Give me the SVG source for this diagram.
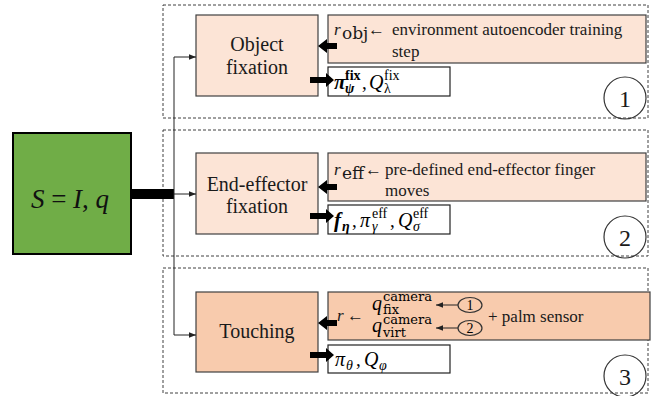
<svg xmlns="http://www.w3.org/2000/svg" width="662" height="396" viewBox="0 0 662 396">
<style>
.sec{fill:none;stroke:#404040;stroke-width:1;stroke-dasharray:3,2}
.node{fill:#FCE4D6;stroke:#404040;stroke-width:1.2}
.node3{fill:#F8CBAD;stroke:#404040;stroke-width:1.2}
.out{fill:#ffffff;stroke:#222;stroke-width:1.2}
.lbl{font-size:20px;fill:#1a1a1a}
.t{font-size:17px;fill:#1a1a1a}
.num{font-size:24px;fill:#1a1a1a;text-anchor:middle}
.circ{fill:none;stroke:#333;stroke-width:1.2}
.thin{stroke:#222;stroke-width:1;fill:none}
.fat{fill:#000}
</style>
<defs>
<marker id="ah" viewBox="0 0 10 10" refX="10" refY="5" markerWidth="7" markerHeight="7" orient="auto" markerUnits="userSpaceOnUse">
<path d="M0,1 L10,5 L0,9 z" fill="#222"/>
</marker>
</defs>
<g font-family="'Liberation Serif', 'Times New Roman', serif">

<g id="section1">
<rect class="sec" x="163" y="5" width="485" height="113"/>
</g>
<g id="section2">
<rect class="sec" x="163" y="130" width="485" height="126"/>
</g>
<g id="section3">
<rect class="sec" x="163" y="268" width="485" height="125"/>
</g>

<g id="state">
<rect x="13" y="133" width="118" height="121" fill="#70AD47" stroke="#000" stroke-width="2"/>
<text x="70" y="208" text-anchor="middle" font-size="27" fill="#111"><tspan font-style="italic">S</tspan> = <tspan font-style="italic">I</tspan>, <tspan font-style="italic">q</tspan></text>
</g>

<g id="object-fixation">
<rect class="node" x="196" y="15" width="122" height="81"/>
<text class="lbl" x="257" y="51" text-anchor="middle">Object</text>
<text class="lbl" x="257" y="74" text-anchor="middle">fixation</text>
</g>
<g id="reward1">
<rect class="node" x="328" y="15" width="318" height="48"/>
<text class="t" x="334" y="35" font-style="italic" font-size="18">r</text>
<text class="t" x="342" y="39" font-size="12" font-family="'DejaVu Serif', serif">obj</text>
<text class="t" x="368" y="35">←</text>
<text class="t" x="392" y="35">environment autoencoder training</text>
<text class="t" x="392" y="57">step</text>
</g>
<g id="output1">
<rect class="out" x="328" y="67" width="122" height="29"/>
<text x="334" y="89" font-size="21" font-style="italic" font-weight="bold">π</text>
<text x="345" y="80" font-size="14" font-weight="bold">fix</text>
<text x="345" y="93" font-size="14" font-style="italic" font-weight="bold">ψ</text>
<text x="362" y="89" font-size="19">,</text>
<text x="369" y="89" font-size="20" font-style="italic">Q</text>
<text x="384" y="80" font-size="14">fix</text>
<text x="384" y="93" font-size="14">λ</text>
</g>
<g id="circle1">
<circle class="circ" cx="625" cy="98" r="21"/>
<text class="num" x="625" y="107">1</text>
</g>

<g id="end-effector-fixation">
<rect class="node" x="196" y="153" width="122" height="81"/>
<text class="lbl" x="257" y="191" text-anchor="middle">End-effector</text>
<text class="lbl" x="257" y="213" text-anchor="middle">fixation</text>
</g>
<g id="reward2">
<rect class="node" x="328" y="153" width="318" height="48"/>
<text class="t" x="334" y="175" font-style="italic" font-size="18">r</text>
<text class="t" x="342" y="179" font-size="12" font-family="'DejaVu Serif', serif">eff</text>
<text class="t" x="365" y="175">←</text>
<text class="t" x="385" y="175">pre-defined end-effector finger</text>
<text class="t" x="385" y="196">moves</text>
</g>
<g id="output2">
<rect class="out" x="328" y="205" width="122" height="29"/>
<text x="334" y="227" font-size="21" font-style="italic" font-weight="bold">f</text>
<text x="342" y="231" font-size="14" font-style="italic" font-weight="bold">η</text>
<text x="352" y="227" font-size="19">,</text>
<text x="360" y="227" font-size="20" font-style="italic">π</text>
<text x="372" y="218" font-size="14">eff</text>
<text x="372" y="231" font-size="14" font-style="italic">γ</text>
<text x="390" y="227" font-size="19">,</text>
<text x="398" y="227" font-size="20" font-style="italic">Q</text>
<text x="413" y="218" font-size="14">eff</text>
<text x="413" y="231" font-size="14" font-style="italic">σ</text>
</g>
<g id="circle2">
<circle class="circ" cx="625" cy="237" r="21"/>
<text class="num" x="625" y="246">2</text>
</g>

<g id="touching">
<rect class="node3" x="196" y="292" width="122" height="80"/>
<text class="lbl" x="257" y="338" text-anchor="middle">Touching</text>
</g>
<g id="reward3">
<rect class="node3" x="328" y="292" width="322" height="48"/>
<text class="t" x="337" y="321" font-style="italic" font-size="18">r</text>
<text class="t" x="347" y="321">←</text>
<text x="372" y="310" font-size="20" font-style="italic">q</text>
<text x="383" y="301" font-size="13" font-family="'DejaVu Serif', serif">camera</text>
<text x="383" y="314" font-size="13" font-family="'DejaVu Serif', serif">fix</text>
<text x="372" y="332" font-size="20" font-style="italic">q</text>
<text x="383" y="324" font-size="13" font-family="'DejaVu Serif', serif">camera</text>
<text x="383" y="337" font-size="13" font-family="'DejaVu Serif', serif">virt</text>
<line class="thin" x1="458" y1="305" x2="436" y2="305" marker-end="url(#ah)"/>
<line class="thin" x1="458" y1="328" x2="436" y2="328" marker-end="url(#ah)"/>
<ellipse class="circ" cx="470" cy="305" rx="12" ry="7.5"/>
<text x="470" y="310" text-anchor="middle" font-size="14">1</text>
<ellipse class="circ" cx="470" cy="328" rx="12" ry="7.5"/>
<text x="470" y="333" text-anchor="middle" font-size="14">2</text>
<text class="t" x="488" y="322">+ palm sensor</text>
</g>
<g id="output3">
<rect class="out" x="328" y="345" width="122" height="28"/>
<text x="335" y="366" font-size="20" font-style="italic">π</text>
<text x="346" y="370" font-size="14" font-style="italic">θ</text>
<text x="356" y="366" font-size="19">,</text>
<text x="364" y="366" font-size="20" font-style="italic">Q</text>
<text x="379" y="370" font-size="14" font-style="italic">φ</text>
</g>
<g id="circle3">
<circle class="circ" cx="625" cy="376" r="21"/>
<text class="num" x="625" y="385">3</text>
</g>

<g id="connectors">
<rect class="fat" x="131" y="189" width="43" height="10"/>
<line class="thin" x1="174" y1="57" x2="174" y2="335"/>
<line class="thin" x1="174" y1="57" x2="196" y2="57" marker-end="url(#ah)"/>
<line class="thin" x1="174" y1="194" x2="196" y2="194" marker-end="url(#ah)"/>
<line class="thin" x1="174" y1="335" x2="196" y2="335" marker-end="url(#ah)"/>
<path class="fat" d="M337,43 L327,43 L327,39 L318,46 L327,53 L327,49 L337,49 z"/>
<path class="fat" d="M310,77 L326,77 L326,73 L334,80 L326,87 L326,83 L310,83 z"/>
<path class="fat" d="M337,184 L327,184 L327,180 L318,187 L327,194 L327,190 L337,190 z"/>
<path class="fat" d="M310,213 L326,213 L326,209 L334,216 L326,223 L326,219 L310,219 z"/>
<path class="fat" d="M337,320 L327,320 L327,316 L318,323 L327,330 L327,326 L337,326 z"/>
<path class="fat" d="M310,352 L326,352 L326,348 L334,355 L326,362 L326,358 L310,358 z"/>
</g>
</g>
</svg>
